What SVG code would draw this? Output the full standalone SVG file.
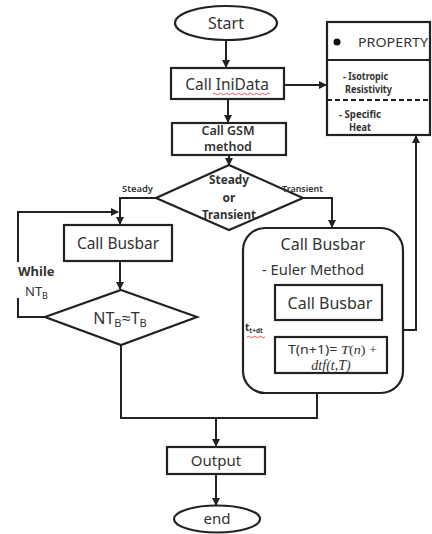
<svg xmlns="http://www.w3.org/2000/svg" width="432" height="534" viewBox="0 0 432 534">
<style>
.s{fill:#fff;stroke:#222;stroke-width:2.2}
.c{fill:none;stroke:#222;stroke-width:2}
.t{font-family:"Noto Sans","Open Sans",sans-serif;fill:#333;text-anchor:middle}
.l{font-family:"Noto Sans","Open Sans",sans-serif;fill:#333}
.w{fill:none;stroke:#e03030;stroke-width:0.8}
.m{font-family:"Liberation Serif",serif}
</style>
<defs>
<marker id="a" markerUnits="userSpaceOnUse" markerWidth="8" markerHeight="8" refX="7" refY="4" orient="auto"><path d="M0,0L8,4L0,8z" fill="#222"/></marker>
</defs>
<g id="connectors">
<path class="c" d="M226,40V67" marker-end="url(#a)"/>
<path class="c" d="M228,99V122" marker-end="url(#a)"/>
<path class="c" d="M229,155V165" marker-end="url(#a)"/>
<path class="c" d="M284,85H326" marker-end="url(#a)"/>
<path class="c" d="M157,198H120V224" marker-end="url(#a)"/>
<path class="c" d="M302,198H332V227" marker-end="url(#a)"/>
<path class="c" d="M120,261V289" marker-end="url(#a)"/>
<path class="c" d="M45,317H18V298"/>
<path class="c" d="M18,262V212H118" marker-end="url(#a)"/>
<path class="c" d="M121,345V418H317V393"/>
<path class="c" d="M216,418V446" marker-end="url(#a)"/>
<path class="c" d="M216,474V505" marker-end="url(#a)"/>
<path class="c" d="M403,330H416V136" marker-end="url(#a)"/>
<path class="c" d="M275,355H253V342"/>
<path class="c" d="M253,311V303H274" marker-end="url(#a)"/>
</g>
<g id="start">
<ellipse class="s" cx="226" cy="23" rx="51" ry="17"/>
<text class="t" x="226" y="29" font-size="16">Start</text>
</g>
<g id="inidata">
<rect class="s" x="171" y="68" width="113" height="31"/>
<text class="t" x="227" y="90" font-size="15.5">Call IniData</text>
<path class="w" d="M213,94q1.5,-1.5 3,0t3,0t3,0t3,0t3,0t3,0t3,0t3,0t3,0t3,0t3,0t3,0t3,0t3,0t3,0t3,0t3,0t3,0t3,0"/>
</g>
<g id="gsm">
<rect class="s" x="172" y="123" width="114" height="32"/>
<text class="t" x="228" y="135" font-size="12.5" font-weight="600">Call GSM</text>
<text class="t" x="228" y="151" font-size="12.5" font-weight="600">method</text>
</g>
<g id="property">
<rect class="s" x="327" y="22" width="103" height="113"/>
<line class="c" x1="327" y1="60" x2="430" y2="60"/>
<line class="c" x1="327" y1="100" x2="430" y2="100" stroke-dasharray="5,3"/>
<circle cx="337" cy="42" r="3.5" fill="#111"/>
<text class="l" x="358" y="47" font-size="13" textLength="70" lengthAdjust="spacingAndGlyphs">PROPERTY</text>
<text class="l" x="343" y="80" font-size="10" font-weight="bold" textLength="45" lengthAdjust="spacingAndGlyphs">- Isotropic</text>
<text class="l" x="345" y="93" font-size="10" font-weight="bold" textLength="47" lengthAdjust="spacingAndGlyphs">Resistivity</text>
<text class="l" x="339" y="118" font-size="10" font-weight="bold" textLength="42" lengthAdjust="spacingAndGlyphs">- Specific</text>
<text class="l" x="349" y="131" font-size="10" font-weight="bold" textLength="22" lengthAdjust="spacingAndGlyphs">Heat</text>
</g>
<g id="decision">
<polygon class="s" points="229,165 303,198 229,230 156,198"/>
<text class="t" x="229" y="184" font-size="12" font-weight="bold" textLength="40" lengthAdjust="spacingAndGlyphs">Steady</text>
<text class="t" x="229" y="202" font-size="12" font-weight="bold">or</text>
<text class="t" x="229" y="219" font-size="12" font-weight="bold" textLength="54" lengthAdjust="spacingAndGlyphs">Transient</text>
<text class="l" x="122" y="192" font-size="9.5" font-weight="600" textLength="31" lengthAdjust="spacingAndGlyphs">Steady</text>
<text class="l" x="282" y="192" font-size="9.5" font-weight="600" textLength="41" lengthAdjust="spacingAndGlyphs">Transient</text>
</g>
<g id="busbar-steady">
<rect class="s" x="64" y="225" width="108" height="36"/>
<text class="t" x="118" y="249" font-size="15.5">Call Busbar</text>
</g>
<g id="nt-decision">
<polygon class="s" points="121,290 197,317 121,345 45,317"/>
<text class="t" x="120" y="324" font-size="16">NT<tspan font-size="11" dy="3">B</tspan><tspan dy="-3">≈T</tspan><tspan font-size="11" dy="3">B</tspan></text>
<text class="l" x="18" y="276" font-size="13" font-weight="bold">While</text>
<text class="l" x="25" y="296" font-size="13">NT<tspan font-size="9" dy="3">B</tspan></text>
</g>
<g id="busbar-transient">
<rect class="s" x="243" y="228" width="160" height="165" rx="22"/>
<text class="t" x="323" y="250" font-size="16">Call Busbar</text>
<text class="l" x="262" y="275" font-size="15" textLength="102" lengthAdjust="spacingAndGlyphs">- Euler Method</text>
<text class="l" x="245" y="331" font-size="10" font-weight="bold">t<tspan font-size="6.5" dy="2">t+dt</tspan></text>
<path class="w" d="M247,337q1.5,-1.5 3,0t3,0t3,0t3,0t3,0t3,0"/>
</g>
<g id="busbar-inner">
<rect class="s" x="275" y="285" width="107" height="35"/>
<text class="t" x="330" y="309" font-size="16">Call Busbar</text>
</g>
<g id="euler">
<rect class="s" x="275" y="337" width="112" height="36"/>
<text class="l" x="288" y="354" font-size="13" textLength="89" lengthAdjust="spacingAndGlyphs">T(n+1)= <tspan class="m" font-style="italic">T</tspan><tspan class="m">(</tspan><tspan class="m" font-style="italic">n</tspan><tspan class="m">) +</tspan></text>
<text class="m" x="331" y="370" font-size="14" font-style="italic" text-anchor="middle" fill="#333">dtf(t,T)</text>
</g>
<g id="output">
<rect class="s" x="167" y="447" width="98" height="27"/>
<text class="t" x="216" y="466" font-size="15">Output</text>
</g>
<g id="end">
<ellipse class="s" cx="217" cy="519" rx="43" ry="13.5"/>
<text class="t" x="217" y="524" font-size="15">end</text>
</g>
</svg>
